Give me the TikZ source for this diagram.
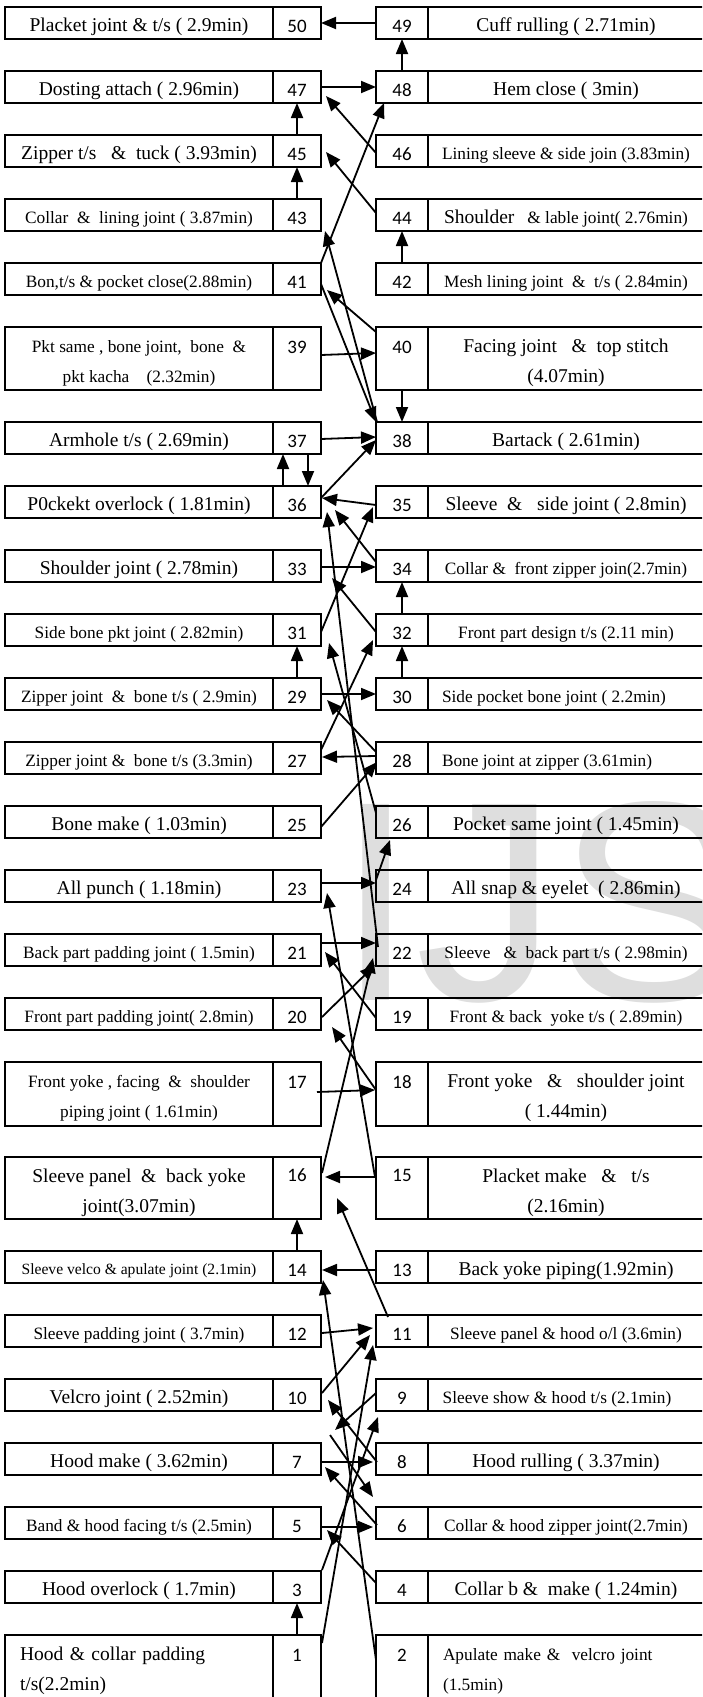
\documentclass[tikz,border=0pt]{standalone}
\usepackage{fontspec}
\setmainfont{Liberation Serif}
\newfontfamily\numfont{Carlito}
\newfontfamily\markfont{Liberation Sans}
\usetikzlibrary{calc, arrows.meta}

\tikzset{
  cell/.style={draw, line width=2pt, anchor=north west, inner sep=0pt, outer sep=0pt},
  bigtxt/.style={font=\fontsize{19.5}{30}\selectfont, align=center, inner sep=0pt},
  midtxt/.style={font=\fontsize{17.3}{30}\selectfont, align=center, inner sep=0pt},
  smalltxt/.style={font=\fontsize{15.6}{30}\selectfont, align=center, inner sep=0pt},
  bigleft/.style={bigtxt, text width=238pt, align=left},
  midleft/.style={midtxt, text width=246pt, align=left},
  num/.style={font=\numfont\fontsize{19}{22}\selectfont, inner sep=0pt},
  arr/.style={-{Triangle[length=15pt, width=12pt]}, line width=1.8pt},
}

\begin{document}
\begin{tikzpicture}[x=1pt, y=-1pt]
\useasboundingbox (0,0) rectangle (702,1697);
\clip (0,0) rectangle (702,1697);
\node[anchor=base west, inner sep=0pt, text=black!13, font=\markfont\fontsize{285}{285}\selectfont] (wm) at (336,1000) {IJS};

% left column
\foreach \nm/\ty/\hh/\cy/\my/\sty/\txt in {
  50/7/32/20/19/bigtxt/{Placket joint \& t/s ( 2.9min)},
  47/71/32/20/19/bigtxt/{Dosting attach ( 2.96min)},
  45/135/32/20/19/bigtxt/{Zipper t/s~~ \&~ tuck ( 3.93min)},
  43/199/32/20/19/midtxt/{Collar~ \&~ lining joint ( 3.87min)},
  41/263/32/20/19/midtxt/{Bon,t/s \& pocket close(2.88min)},
  39/327/63/36/20/midtxt/{Pkt same , bone joint,~ bone~ \&\\pkt kacha~~~ (2.32min)},
  37/422/32/20/19/bigtxt/{Armhole t/s ( 2.69min)},
  36/486/32/20/19/bigtxt/{P0ckekt overlock ( 1.81min)},
  33/550/32/20/19/bigtxt/{Shoulder joint ( 2.78min)},
  31/614/32/20/19/midtxt/{Side bone pkt joint ( 2.82min)},
  29/678/32/20/19/midtxt/{Zipper joint~ \&~ bone t/s ( 2.9min)},
  27/742/32/20/19/midtxt/{Zipper joint \&~ bone t/s (3.3min)},
  25/806/32/20/19/bigtxt/{Bone make ( 1.03min)},
  23/870/32/20/19/bigtxt/{All punch ( 1.18min)},
  21/934/32/20/19/midtxt/{Back part padding joint ( 1.5min)},
  20/998/32/20/19/midtxt/{Front part padding joint( 2.8min)},
  17/1062/64/36/20/midtxt/{Front yoke , facing~ \&~ shoulder\\piping joint ( 1.61min)},
  16/1157/62/36/18/bigtxt/{Sleeve panel~ \&~ back yoke\\joint(3.07min)},
  14/1251/32/20/19/smalltxt/{Sleeve velco \& apulate joint (2.1min)},
  12/1315/32/20/19/midtxt/{Sleeve padding joint ( 3.7min)},
  10/1379/32/20/19/bigtxt/{Velcro joint ( 2.52min)},
  7/1443/32/20/19/bigtxt/{Hood make ( 3.62min)},
  5/1507/32/20/19/midtxt/{Band \& hood facing t/s (2.5min)},
  3/1571/32/20/19/bigtxt/{Hood overlock ( 1.7min)},
  1/1635/80/36/20/bigleft/{Hood \& collar padding\\t/s(2.2min)}}
{
  \node[cell, minimum width=268pt, minimum height=\hh pt] (t\nm) at (5,\ty) {};
  \node[cell, minimum width=48pt, minimum height=\hh pt] (n\nm) at (273,\ty) {};
  \node[\sty] (l\nm) at ([shift={(0,\cy)}]t\nm.north) {\txt};
  \node[num] (k\nm) at ([shift={(0,\my)}]n\nm.north) {\nm};
}

% right column
\foreach \nm/\ty/\hh/\cy/\my/\sty/\txt in {
  49/7/32/20/19/bigtxt/{Cuff rulling ( 2.71min)},
  48/71/32/20/19/bigtxt/{Hem close ( 3min)},
  46/135/32/20/19/midtxt/{Lining sleeve \& side join (3.83min)},
  44/199/32/20/19/midtxt/{{\fontsize{19.5}{30}\selectfont Shoulder}~~ \& lable joint( 2.76min)},
  42/263/32/20/19/midtxt/{Mesh lining joint~ \&~ t/s ( 2.84min)},
  40/327/63/36/20/bigtxt/{Facing joint~~ \&~ top stitch\\(4.07min)},
  38/422/32/20/19/bigtxt/{Bartack ( 2.61min)},
  35/486/32/20/19/bigtxt/{Sleeve~ \&~~ side joint ( 2.8min)},
  34/550/32/20/19/midtxt/{Collar \&~ front zipper join(2.7min)},
  32/614/32/20/19/midtxt/{Front part design t/s (2.11 min)},
  30/678/32/20/19/midtxt/{Side pocket bone joint ( 2.2min)\kern24pt},
  28/742/32/20/19/midtxt/{Bone joint at zipper (3.61min)\kern38pt},
  26/806/32/20/19/bigtxt/{Pocket same joint ( 1.45min)},
  24/870/32/20/19/bigtxt/{All snap \& eyelet~ ( 2.86min)},
  22/934/32/20/19/midtxt/{Sleeve~~ \&~ back part t/s ( 2.98min)},
  19/998/32/20/19/midtxt/{Front \& back~ yoke t/s ( 2.89min)},
  18/1062/64/36/20/bigtxt/{Front yoke~~ \&~~ shoulder joint\\( 1.44min)},
  15/1157/62/36/18/bigtxt/{Placket make~~ \&~~ t/s\\(2.16min)},
  13/1251/32/20/19/bigtxt/{Back yoke piping(1.92min)},
  11/1315/32/20/19/midtxt/{Sleeve panel \& hood o/l (3.6min)},
  9/1379/32/20/19/midtxt/{Sleeve show \& hood t/s (2.1min)\kern18pt},
  8/1443/32/20/19/bigtxt/{Hood rulling ( 3.37min)},
  6/1507/32/20/19/midtxt/{Collar \& hood zipper joint(2.7min)},
  4/1571/32/20/19/bigtxt/{Collar b \&~ make ( 1.24min)},
  2/1635/80/36/20/midleft/{Apulate make \&~ velcro joint\\(1.5min)}}
{
  \node[cell, minimum width=52pt, minimum height=\hh pt] (n\nm) at (376,\ty) {};
  \node[cell, minimum width=276pt, minimum height=\hh pt] (t\nm) at (428,\ty) {};
  \node[\sty] (l\nm) at ([shift={(0,\cy)}]t\nm.north) {\txt};
  \node[num] (k\nm) at ([shift={(0,\my)}]n\nm.north) {\nm};
}

% connectors
\draw[arr] ([shift={(0,16)}]n49.north west) -- ([shift={(0,16)}]n50.north east);
\draw[arr] (n48.north) -- (n49.south);
\draw[arr] ([shift={(0,16)}]n47.north east) -- ([shift={(0,16)}]n48.north west);
\draw[arr] (n45.north) -- (n47.south);
\draw[arr] (n43.north) -- (n45.south);
\draw[arr] ([shift={(0,18)}]n46.north west) -- ([shift={(5,25)}]n47.north east);
\draw[arr] ([shift={(0,14)}]n44.north west) -- ([shift={(5,17)}]n45.north east);
\draw[arr] (n42.north) -- (n44.south);
\draw[arr] (n41.north east) -- ([shift={(8,32)}]n48.north west);
\draw[arr] ([shift={(1,0)}]n38.north west) -- ([shift={(4,32)}]n43.north east);
\draw[arr] ([shift={(0,21)}]n41.north east) -- (n38.north west);
\draw[arr] ([shift={(0,5)}]n40.north west) -- ([shift={(6,27)}]n41.north east);
\draw[arr] ([shift={(0,28)}]n39.north east) -- ([shift={(0,26)}]n40.north west);
\draw[arr] (n40.south) -- (n38.north);
\draw[arr] ([shift={(0,17)}]n37.north east) -- ([shift={(0,15)}]n38.north west);
\draw[arr] ([shift={(-14,0)}]n36.north) -- ([shift={(-14,0)}]n37.south);
\draw[arr] ([shift={(11,0)}]n37.south) -- ([shift={(11,0)}]n36.north);
\draw[arr] ([shift={(0,12)}]n36.north east) -- ([shift={(0,18)}]n38.north west);
\draw[arr] ([shift={(0,19)}]n35.north west) -- ([shift={(1,12)}]n36.north east);
\draw[arr] ([shift={(0,12)}]n34.north west) -- ([shift={(14,24)}]n36.north east);
\draw[arr] ([shift={(2,13)}]n22.north west) -- ([shift={(6,26)}]n36.north east);
\draw[arr] ([shift={(1,17)}]n33.north east) -- ([shift={(0,17)}]n34.north west);
\draw[arr] (n32.north) -- (n34.south);
\draw[arr] ([shift={(0,18)}]n32.north west) -- ([shift={(11,28)}]n33.north east);
\draw[arr] ([shift={(0,18)}]n31.north east) -- ([shift={(-3,21)}]n35.north west);
\draw[arr] (n29.north) -- (n31.south);
\draw[arr] ([shift={(1,16)}]n29.north east) -- ([shift={(0,16)}]n30.north west);
\draw[arr] (n30.north) -- (n32.south);
\draw[arr] ([shift={(0,8)}]n27.north east) -- ([shift={(-3,26)}]n32.north west);
\draw[arr] ([shift={(0,10)}]n28.north west) -- ([shift={(6,22)}]n29.north east);
\draw[arr] ([shift={(0,14)}]n28.north west) -- ([shift={(1,15)}]n27.north east);
\draw[arr] ([shift={(0,7)}]n26.north west) -- ([shift={(8,29)}]n31.north east);
\draw[arr] ([shift={(0,21)}]n25.north east) -- ([shift={(1,20)}]n28.north west);
\draw[arr] ([shift={(0,10)}]n24.north west) -- ([shift={(14,34)}]n26.north west);
\draw[arr] ([shift={(1,13)}]n23.north east) -- ([shift={(0,13)}]n24.north west);
\draw[arr] ([shift={(1,9)}]n21.north east) -- ([shift={(0,9)}]n22.north west);
\draw[arr] ([shift={(0,20)}]n19.north west) -- ([shift={(4,18)}]n21.north east);
\draw[arr] ([shift={(1,19)}]n20.north east) -- ([shift={(-1,31)}]n22.north west);
\draw[arr] ([shift={(1,16)}]n16.north east) -- ([shift={(-3,24)}]n22.north west);
\draw[arr] ([shift={(0,28)}]n18.north west) -- ([shift={(11,29)}]n20.north east);
\draw[arr] ([shift={(-1,20)}]n15.north west) -- ([shift={(6,23)}]n23.north east);
\draw[arr] ([shift={(-4,30)}]n17.north east) -- ([shift={(-1,28)}]n18.north west);
\draw[arr] ([shift={(0,20)}]n15.north west) -- ([shift={(4,20)}]n16.north east);
\draw[arr] ([shift={(12,2)}]n11.north west) -- ([shift={(16,41)}]n16.north east);
\draw[arr] (n14.north) -- (n16.south);
\draw[arr] ([shift={(0,19)}]n13.north west) -- ([shift={(1,19)}]n14.north east);
\draw[arr] ([shift={(0,25)}]n2.north west) -- ([shift={(2,29)}]n14.north east);
\draw[arr] ([shift={(1,18)}]n12.north east) -- ([shift={(-3,13)}]n11.north west);
\draw[arr] ([shift={(1,14)}]n10.north east) -- ([shift={(-6,20)}]n11.north west);
\draw[arr] ([shift={(1,8)}]n1.north east) -- ([shift={(-3,30)}]n11.north west);
\draw[arr] ([shift={(0,14)}]n9.north west) -- ([shift={(14,-13)}]n7.north east);
\draw[arr] ([shift={(9,-8)}]n7.north east) -- ([shift={(-3,-10)}]n6.north west);
\draw[arr] ([shift={(1,19)}]n8.north west) -- ([shift={(7,21)}]n10.north east);
\draw[arr] ([shift={(-1,19)}]n7.north east) -- ([shift={(-3,19)}]n8.north west);
\draw[arr] ([shift={(1,18)}]n6.north west) -- ([shift={(4,24)}]n7.north east);
\draw[arr] ([shift={(1,20)}]n5.north east) -- ([shift={(-3,20)}]n6.north west);
\draw[arr] ([shift={(0,12)}]n4.north west) -- ([shift={(6,23)}]n5.north east);
\draw[arr] ([shift={(1,-1)}]n3.north east) -- ([shift={(2,38)}]n9.north west);
\draw[arr] (n1.north) -- (n3.south);
\end{tikzpicture}
\end{document}
